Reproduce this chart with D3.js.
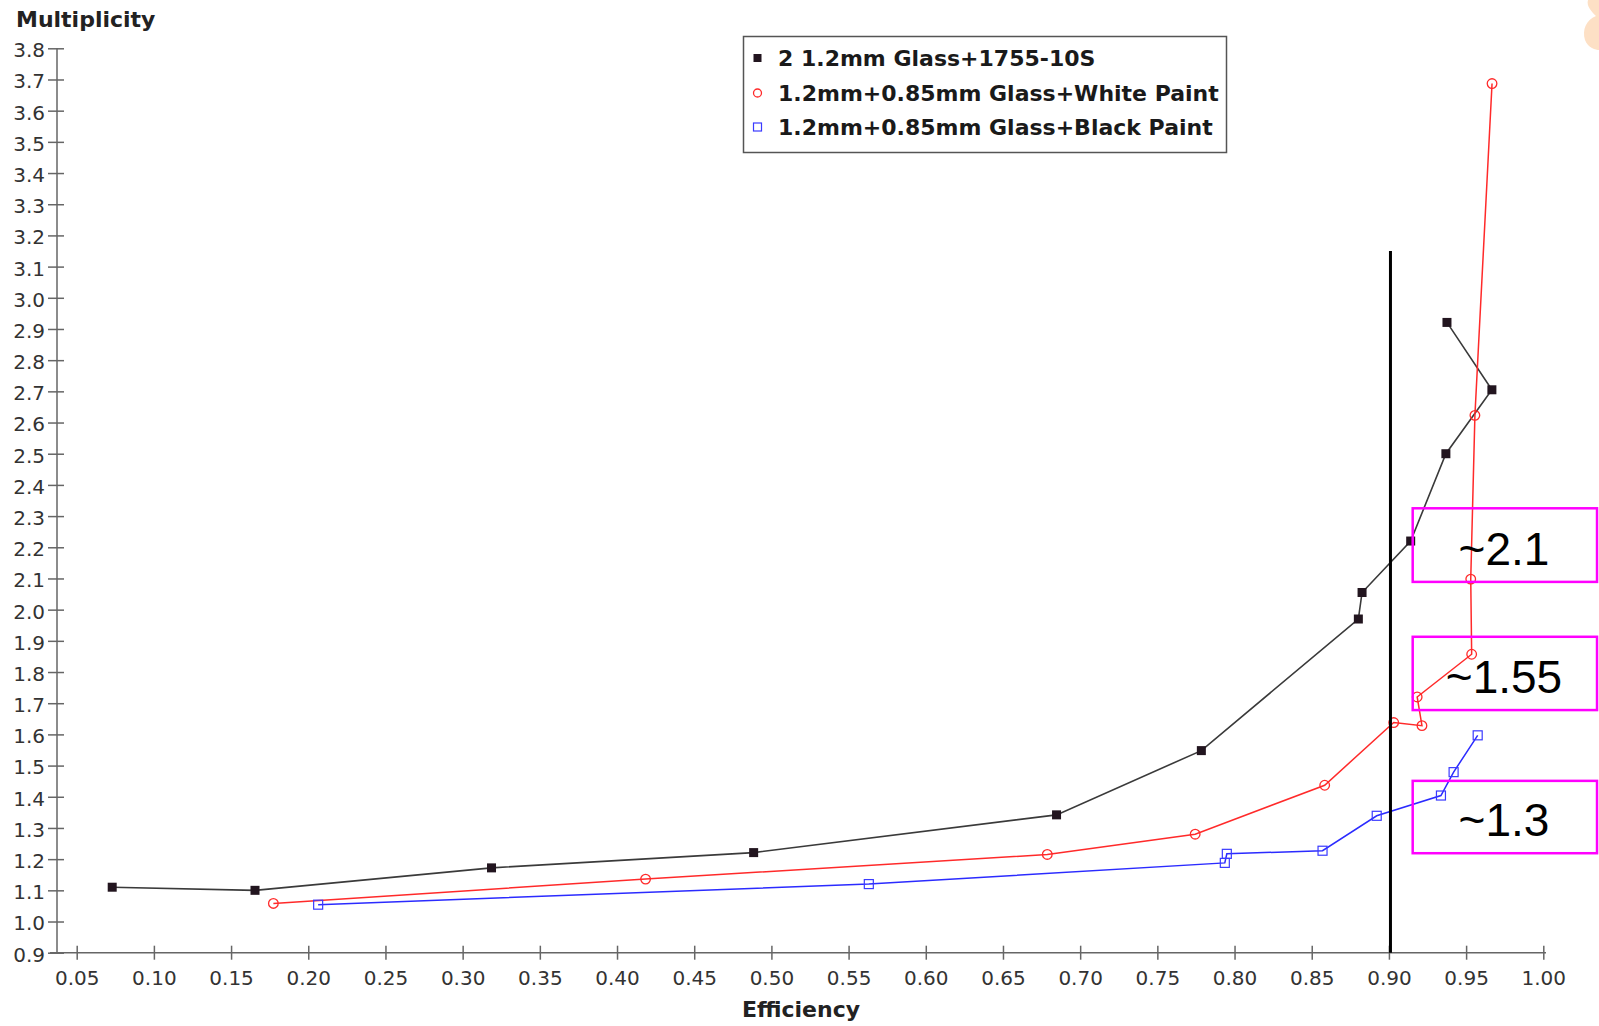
<!DOCTYPE html>
<html>
<head>
<meta charset="utf-8">
<script src="https://cdn.jsdelivr.net/npm/d3@7"></script>
<style>
  body { margin: 0; background: #fff; }
  svg { display: block; }
</style>
</head>
<body>
<div id="chart"></div>
<script>
// Data (Efficiency, Multiplicity)
const blackEff  = [0.073, 0.1655, 0.3187, 0.4885, 0.6847, 0.7785, 0.8802, 0.8826, 0.9141, 0.9369, 0.9667, 0.9376];
const blackMult = [1.110, 1.100, 1.172, 1.221, 1.342, 1.548, 1.970, 2.055, 2.220, 2.500, 2.705, 2.921];

const redEff  = [0.1774, 0.4185, 0.6787, 0.7745, 0.8584, 0.9031, 0.9214, 0.9183, 0.9536, 0.9530, 0.9557, 0.9668];
const redMult = [1.058, 1.136, 1.215, 1.280, 1.437, 1.638, 1.628, 1.720, 1.857, 2.098, 2.623, 3.687];

const blueEff  = [0.2064, 0.5631, 0.7937, 0.7950, 0.8570, 0.8921, 0.9337, 0.9419, 0.9575];
const blueMult = [1.054, 1.120, 1.188, 1.217, 1.227, 1.339, 1.404, 1.479, 1.597];

const seriesNames = ["2 1.2mm Glass+1755-10S", "1.2mm+0.85mm Glass+White Paint", "1.2mm+0.85mm Glass+Black Paint"];

const xTicks = d3.range(1, 21).map(i => i * 0.05);
const yTicks = d3.range(9, 39).map(i => i / 10);

// annotation boxes: [label, top value, bottom value]
const noteLabels = ["~2.1", "~1.55", "~1.3"];
const noteTop    = [2.325, 1.913, 1.451];
const noteBottom = [2.089, 1.678, 1.219];
const noteLeft = 0.9154, noteRight = 1.0348;
const cutEff = 0.901, cutTop = 3.15;

const W = 1599, H = 1026;

const svg = d3.select("#chart").append("svg")
    .attr("width", W)
    .attr("height", H);

const x = d3.scaleLinear().domain([0.05, 1.0]).range([76.7, 1543.3]);
const y = d3.scaleLinear().domain([0.9, 3.8]).range([952.7, 48.3]);

const axisColor = "#666";

// peach blob in the corner
svg.append("path")
    .attr("d", "M1599,0 L1588,0 C1586,6 1592,12 1596,16 C1586,20 1582,30 1585,40 C1588,48 1596,50 1599,50 Z")
    .attr("fill", "#fde0c5");

// y axis
const yAxis = svg.append("g")
    .attr("transform", "translate(57,0)")
    .call(d3.axisLeft(y).tickValues(yTicks).tickFormat(d3.format(".1f")).tickSize(9).tickPadding(3));
yAxis.select(".domain").remove();
yAxis.selectAll(".tick line").attr("x1", -9).attr("x2", 7).attr("stroke", axisColor).attr("stroke-width", 1.5);
yAxis.selectAll(".tick text")
    .attr("dy", "0.42em")
    .style("font-family", "DejaVu Sans")
    .style("font-size", "20px")
    .attr("fill", "#333");
svg.append("line")
    .attr("x1", 57).attr("x2", 57)
    .attr("y1", y(0.9)).attr("y2", y(3.8))
    .attr("stroke", axisColor).attr("stroke-width", 1.5);

// x axis
const xAxis = svg.append("g")
    .attr("transform", "translate(0," + y(0.9) + ")")
    .call(d3.axisBottom(x).tickValues(xTicks).tickFormat(d3.format(".2f")).tickSize(7));
xAxis.select(".domain").remove();
xAxis.selectAll(".tick line").attr("y1", -7).attr("y2", 7).attr("stroke", axisColor).attr("stroke-width", 1.5);
xAxis.selectAll(".tick text")
    .attr("y", 32).attr("dy", 0)
    .style("font-family", "DejaVu Sans")
    .style("font-size", "20px")
    .attr("fill", "#333");
svg.append("line")
    .attr("x1", 50).attr("x2", 1546)
    .attr("y1", y(0.9)).attr("y2", y(0.9))
    .attr("stroke", axisColor).attr("stroke-width", 1.5);

// axis titles
svg.append("text")
    .attr("x", 16).attr("y", 27)
    .style("font-family", "DejaVu Sans")
    .style("font-weight", "bold")
    .style("font-size", "22px")
    .attr("fill", "#222")
    .text("Multiplicity");

svg.append("text")
    .attr("x", 801).attr("y", 1017)
    .attr("text-anchor", "middle")
    .style("font-family", "DejaVu Sans")
    .style("font-weight", "bold")
    .style("font-size", "22px")
    .attr("fill", "#222")
    .text("Efficiency");

// series
const line = d3.line().x(d => x(d[0])).y(d => y(d[1]));
const blackPts = d3.zip(blackEff, blackMult);
const redPts = d3.zip(redEff, redMult);
const bluePts = d3.zip(blueEff, blueMult);

svg.append("path").datum(blackPts).attr("d", line)
    .attr("fill", "none").attr("stroke", "#3a3a3a").attr("stroke-width", 1.6);
svg.append("path").datum(redPts).attr("d", line)
    .attr("fill", "none").attr("stroke", "#ff2a2a").attr("stroke-width", 1.5);
svg.append("path").datum(bluePts).attr("d", line)
    .attr("fill", "none").attr("stroke", "#2b2bff").attr("stroke-width", 1.5);

svg.selectAll(".blk").data(blackPts).enter().append("rect")
    .attr("x", d => x(d[0]) - 4.5).attr("y", d => y(d[1]) - 4.5)
    .attr("width", 9).attr("height", 9)
    .attr("fill", "#22151f");

svg.selectAll(".red").data(redPts).enter().append("circle")
    .attr("cx", d => x(d[0])).attr("cy", d => y(d[1]))
    .attr("r", 4.8)
    .attr("fill", "none").attr("stroke", "#ff2a2a").attr("stroke-width", 1.3);

svg.selectAll(".blu").data(bluePts).enter().append("rect")
    .attr("x", d => x(d[0]) - 4.5).attr("y", d => y(d[1]) - 4.5)
    .attr("width", 9).attr("height", 9)
    .attr("fill", "none").attr("stroke", "#3a3aff").attr("stroke-width", 1.2);

// vertical cut line
svg.append("line")
    .attr("x1", x(cutEff)).attr("x2", x(cutEff))
    .attr("y1", y(cutTop)).attr("y2", y(0.9))
    .attr("stroke", "#000").attr("stroke-width", 3);

// annotation boxes
noteLabels.forEach((lab, i) => {
    const top = y(noteTop[i]), bot = y(noteBottom[i]);
    svg.append("rect")
        .attr("x", x(noteLeft)).attr("y", top)
        .attr("width", x(noteRight) - x(noteLeft)).attr("height", bot - top)
        .attr("fill", "none").attr("stroke", "#f0f").attr("stroke-width", 2.5);
    svg.append("text")
        .attr("x", 1504).attr("y", bot - 17)
        .attr("text-anchor", "middle")
        .style("font-family", "Liberation Sans")
        .style("font-size", "46px")
        .attr("fill", "#000")
        .text(lab);
});

// legend
const legend = svg.append("g");
legend.append("rect")
    .attr("x", 743.5).attr("y", 36.5)
    .attr("width", 483).attr("height", 116)
    .attr("fill", "#fff").attr("stroke", "#555").attr("stroke-width", 1.5);

const rowY = [58, 93, 127];
legend.append("rect").attr("x", 753.5).attr("y", rowY[0] - 4).attr("width", 8).attr("height", 8).attr("fill", "#22151f");
legend.append("circle").attr("cx", 757.5).attr("cy", rowY[1]).attr("r", 4)
    .attr("fill", "none").attr("stroke", "#ff2a2a").attr("stroke-width", 1.3);
legend.append("rect").attr("x", 753.5).attr("y", rowY[2] - 4).attr("width", 8).attr("height", 8)
    .attr("fill", "none").attr("stroke", "#3a3aff").attr("stroke-width", 1.2);

seriesNames.forEach((name, i) => {
    legend.append("text")
        .attr("x", 778).attr("y", rowY[i] + 8)
        .style("font-family", "DejaVu Sans")
        .style("font-weight", "bold")
        .style("font-size", "22px")
        .attr("fill", "#1a1a1a")
        .text(name);
});
</script>
</body>
</html>
